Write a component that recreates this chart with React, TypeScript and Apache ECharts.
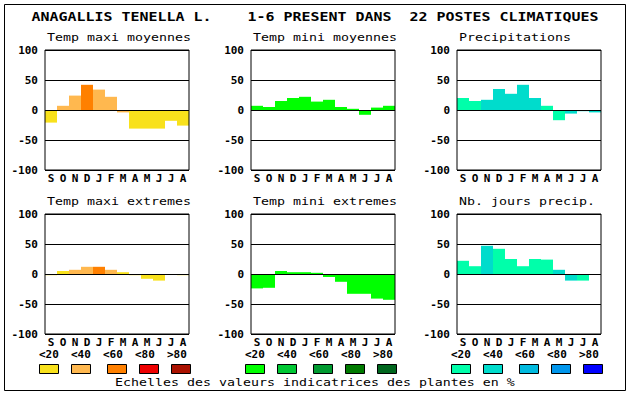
import React, { useEffect, useRef } from "react";
import * as echarts from "echarts";

const months = ["S", "O", "N", "D", "J", "F", "M", "A", "M", "J", "J", "A"];
const yTicks = { min: -100, max: 100, interval: 50 };

const maxiMoy = [-21, 7, 24, 42, 34, 22, -4, -31, -31, -31, -18, -26];
const maxiMoyCls = [0, 1, 1, 2, 1, 1, 1, 0, 0, 0, 0, 0];
const miniMoy = [7, 5, 15, 20, 22, 14, 17, 5, 2, -8, 4, 7];
const miniMoyCls = [0, 0, 0, 0, 0, 0, 0, 0, 0, 0, 0, 0];
const precip = [20, 15, 17, 35, 27, 42, 20, 7, -17, -6, -2, -4];
const precipCls = [0, 0, 1, 1, 1, 1, 1, 0, 0, 1, 1, 1];
const maxiExt = [-2, 5, 7, 12, 12, 7, 3, -2, -8, -11, 0, -2];
const maxiExtCls = [0, 0, 1, 1, 2, 1, 0, 0, 0, 0, 0, 0];
const miniExt = [-24, -23, 5, 3, 3, 2, -5, -13, -33, -33, -41, -43];
const miniExtCls = [0, 0, 0, 0, 0, 0, 0, 0, 0, 0, 0, 0];
const nbJours = [22, 13, 47, 42, 25, 13, 25, 24, 7, -11, -11, 0];
const nbJoursCls = [0, 0, 1, 0, 0, 0, 0, 0, 1, 1, 0, 0];

const warm = ["#F8E11C", "#FFB84F", "#FF8000", "#EE0000", "#AA1100"];
const green = ["#00FF00", "#00C834", "#009A30", "#007A00", "#00661E"];
const blue = ["#00FFAA", "#00DCCC", "#00BADF", "#0096EC", "#0000FF"];

const legendLabels = ["<20", "<40", "<60", "<80", ">80"];
const mainTitleParts = ["ANAGALLIS TENELLA L.", "1-6 PRESENT DANS", "22 POSTES CLIMATIQUES"];
const panelTitles = [
  "Temp maxi moyennes",
  "Temp mini moyennes",
  "Precipitations",
  "Temp maxi extremes",
  "Temp mini extremes",
  "Nb. jours precip.",
];
const footer = "Echelles des valeurs indicatrices des plantes en %";

const panels = [
  { values: maxiMoy, cls: maxiMoyCls, pal: warm },
  { values: miniMoy, cls: miniMoyCls, pal: green },
  { values: precip, cls: precipCls, pal: blue },
  { values: maxiExt, cls: maxiExtCls, pal: warm },
  { values: miniExt, cls: miniExtCls, pal: green },
  { values: nbJours, cls: nbJoursCls, pal: blue },
];
const palettes = [warm, green, blue];

const MONO = "DejaVu Sans Mono";

export default function App() {
  const ref = useRef<HTMLDivElement>(null);
  useEffect(() => {
    if (!ref.current) return;
    const chart = echarts.init(ref.current, undefined, { renderer: "svg" });
    const colLeft = [45, 251, 457];
    const rowTop = [50, 214];
    const W = 144;
    const H = 120;

    const grids: any[] = [];
    const xAxes: any[] = [];
    const yAxes: any[] = [];
    const series: any[] = [];
    const graphics: any[] = [];

    graphics.push({
      type: "rect",
      shape: { x: 4.5, y: 4.5, width: 621, height: 386 },
      style: { fill: "#fff", stroke: "#000", lineWidth: 1 },
      z: -10,
    });

    const titleOffsets = [0, 24, 42];
    mainTitleParts.forEach((t, i) => {
      graphics.push({
        type: "text",
        x: 31.5 + titleOffsets[i] * 9,
        y: 17.5,
        scaleX: 1.3,
        style: {
          text: t,
          fontFamily: MONO,
          fontSize: 11.5,
          fontWeight: "bold",
          fill: "#000",
          textAlign: "left",
          textVerticalAlign: "middle",
        },
      });
    });

    panels.forEach((p, i) => {
      const c = i % 3;
      const r = Math.floor(i / 3);
      grids.push({
        left: colLeft[c],
        top: rowTop[r],
        width: W,
        height: H,
        show: true,
        borderColor: "#000",
        borderWidth: 1,
        backgroundColor: "transparent",
        z: 3,
      });
      xAxes.push({
        type: "category",
        gridIndex: i,
        data: months,
        axisLine: { show: false },
        axisTick: { show: false },
        splitLine: { show: false },
        axisLabel: {
          interval: 0,
          margin: 3,
          color: "#000",
          fontFamily: MONO,
          fontWeight: "bold",
          fontSize: 11,
        },
      });
      yAxes.push({
        type: "value",
        gridIndex: i,
        min: yTicks.min,
        max: yTicks.max,
        interval: yTicks.interval,
        z: 3,
        axisLine: { show: false },
        axisTick: { show: false },
        splitLine: { show: true, lineStyle: { color: "#000", width: 1 } },
        axisLabel: {
          margin: 7,
          color: "#000",
          fontFamily: MONO,
          fontWeight: "bold",
          fontSize: 11,
        },
      });
      series.push({
        type: "bar",
        xAxisIndex: i,
        yAxisIndex: i,
        barWidth: "100%",
        barCategoryGap: "0%",
        data: p.values.map((v, k) => ({ value: v, itemStyle: { color: p.pal[p.cls[k]] } })),
      });
      graphics.push({
        type: "text",
        x: colLeft[c] + 2,
        y: r === 0 ? 37 : 201,
        scaleX: 1.266,
        style: {
          text: panelTitles[i],
          fontFamily: MONO,
          fontSize: 10.5,
          fill: "#000",
          textAlign: "left",
          textVerticalAlign: "middle",
        },
      });
    });

    const boxOffsets = [0, 32, 68, 100, 132];
    palettes.forEach((pal, g) => {
      const gx = colLeft[g] - 6;
      legendLabels.forEach((lab, k) => {
        graphics.push({
          type: "text",
          x: gx + k * 32,
          y: 354,
          style: {
            text: lab,
            fontFamily: MONO,
            fontSize: 11,
            fontWeight: "bold",
            fill: "#000",
            textAlign: "left",
            textVerticalAlign: "middle",
          },
        });
        graphics.push({
          type: "rect",
          shape: { x: gx + boxOffsets[k] + 0.5, y: 364.5, width: 19, height: 9 },
          style: { fill: pal[k], stroke: "#000", lineWidth: 1 },
        });
      });
    });

    graphics.push({
      type: "text",
      x: 115,
      y: 382,
      scaleX: 1.266,
      style: {
        text: footer,
        fontFamily: MONO,
        fontSize: 10.5,
        fill: "#000",
        textAlign: "left",
        textVerticalAlign: "middle",
      },
    });

    chart.setOption({
      animation: false,
      backgroundColor: "#fff",
      grid: grids,
      xAxis: xAxes,
      yAxis: yAxes,
      series,
      graphic: graphics,
    });
    return () => chart.dispose();
  }, []);
  return (
    <div
      ref={ref}
      style={{ position: "absolute", left: 0, top: 0, width: 630, height: 394 }}
    />
  );
}
